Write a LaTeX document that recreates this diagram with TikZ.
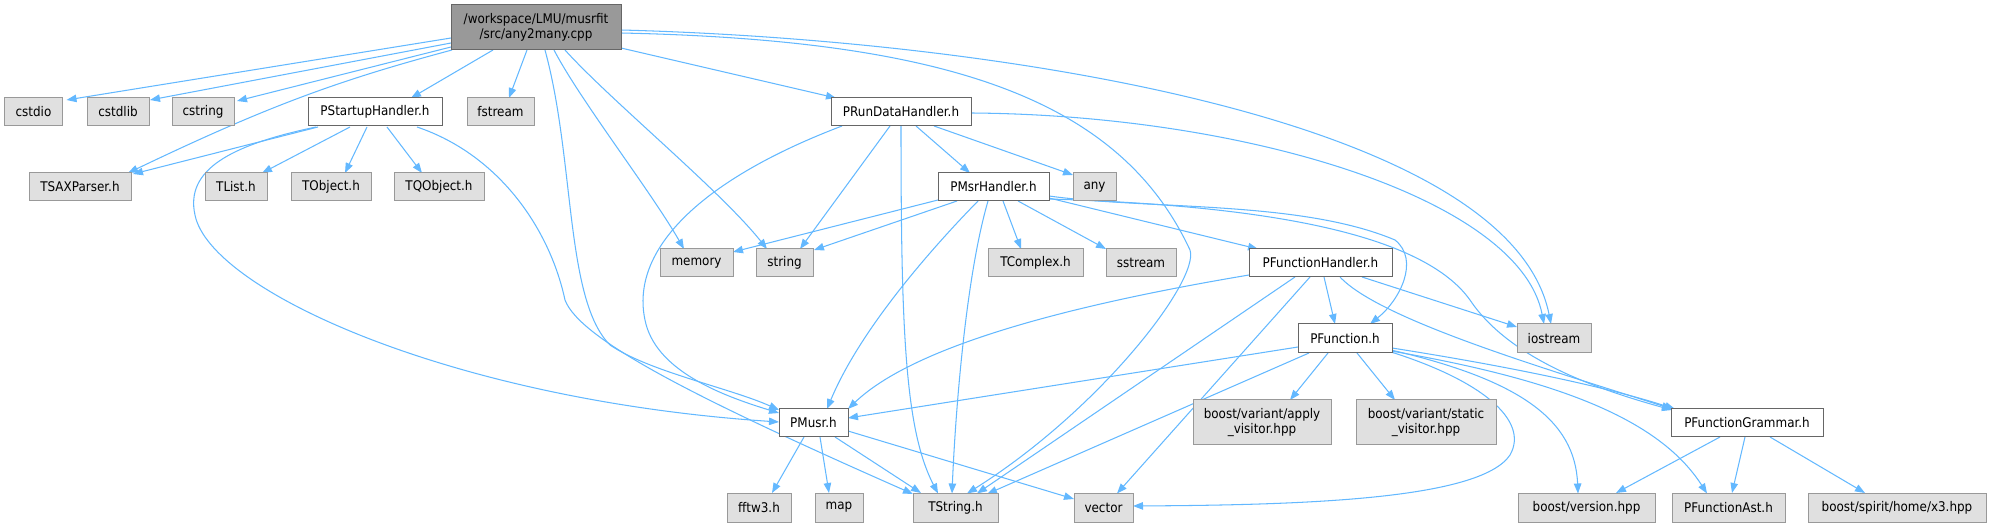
\documentclass[tikz,border=0pt]{standalone}
\usepackage{fontspec}
\usetikzlibrary{arrows.meta,calc}
\newfontfamily\dvf{DejaVu Sans}[FakeStretch=0.9]
\definecolor{edgec}{HTML}{63B8FF}
\definecolor{gfill}{HTML}{E0E0E0}
\definecolor{gborder}{HTML}{999999}
\definecolor{wborder}{HTML}{666666}
\definecolor{mfill}{HTML}{999999}
\pgfdeclarelayer{bg}
\pgfsetlayers{bg,main}
\tikzset{
 e/.style={draw=edgec, line width=1.05pt, -{Triangle[length=10pt,width=7.5pt]}},
 nbase/.style={rectangle, inner sep=0pt, line width=1pt, font=\dvf\fontsize{13.3}{15.5}\selectfont, align=center, minimum height=28pt},
 gbox/.style={nbase, draw=gborder, fill=gfill},
 wbox/.style={nbase, draw=wborder, fill=white},
 mbox/.style={nbase, draw=wborder, fill=mfill},
}
\begin{document}
\begin{tikzpicture}[x=1pt,y=-1pt]
\useasboundingbox (0,0) rectangle (1990,526);
% nodes
\node[mbox, minimum width=170pt, minimum height=45pt] (main) at (536,27.5) {/workspace/LMU/musrfit\\/src/any2many.cpp};
\node[gbox, minimum width=58pt] (cstdio) at (33.5,112) {cstdio};
\node[gbox, minimum width=62pt] (cstdlib) at (118,112) {cstdlib};
\node[gbox, minimum width=62pt] (cstring) at (203,112) {cstring};
\node[wbox, minimum width=134pt] (psh) at (375,112) {PStartupHandler.h};
\node[gbox, minimum width=67pt] (fstream) at (500.5,112) {fstream};
\node[wbox, minimum width=140pt] (prdh) at (901,112) {PRunDataHandler.h};
\node[gbox, minimum width=102pt] (tsax) at (80,187) {TSAXParser.h};
\node[gbox, minimum width=62pt] (tlist) at (236,187) {TList.h};
\node[gbox, minimum width=80pt] (tobject) at (331,187) {TObject.h};
\node[gbox, minimum width=90pt] (tqobject) at (439,187) {TQObject.h};
\node[wbox, minimum width=111pt] (pmsr) at (993.5,187) {PMsrHandler.h};
\node[gbox, minimum width=43pt] (any) at (1094.5,187) {any};
\node[gbox, minimum width=73pt] (memory) at (696.5,263) {memory};
\node[gbox, minimum width=57pt] (string) at (784.5,263) {string};
\node[gbox, minimum width=95pt] (tcomplex) at (1035.5,263) {TComplex.h};
\node[gbox, minimum width=70pt] (sstream) at (1141,263) {sstream};
\node[wbox, minimum width=143pt] (pfh) at (1320.5,263) {PFunctionHandler.h};
\node[wbox, minimum width=94pt, minimum height=29pt] (pf) at (1345,338.5) {PFunction.h};
\node[gbox, minimum width=74pt, minimum height=29pt] (iostream) at (1554,338.5) {iostream};
\node[wbox, minimum width=69pt] (pmusr) at (813.5,423) {PMusr.h};
\node[gbox, minimum width=138pt, minimum height=45pt] (apply) at (1262,422.5) {boost/variant/apply\\\_visitor.hpp};
\node[gbox, minimum width=140pt, minimum height=45pt] (static) at (1426,422.5) {boost/variant/static\\\_visitor.hpp};
\node[wbox, minimum width=152pt] (pfg) at (1747,423) {PFunctionGrammar.h};
\node[gbox, minimum width=64pt, minimum height=29pt] (fftw) at (759,507.5) {fftw3.h};
\node[gbox, minimum width=48pt, minimum height=29pt] (map) at (839,507.5) {map};
\node[gbox, minimum width=85pt, minimum height=29pt] (tstring) at (955.5,507.5) {TString.h};
\node[gbox, minimum width=59pt, minimum height=29pt] (vector) at (1103.5,507.5) {vector};
\node[gbox, minimum width=137pt, minimum height=29pt] (bver) at (1586.5,507.5) {boost/version.hpp};
\node[gbox, minimum width=113pt, minimum height=29pt] (pfa) at (1728.5,507.5) {PFunctionAst.h};
\node[gbox, minimum width=178pt, minimum height=29pt] (x3) at (1897,507.5) {boost/spirit/home/x3.hpp};
% edges
\begin{pgfonlayer}{bg}
% main
\draw[e] ($(main)+(-85,10.5)$) -- ($(cstdio)+(33,-12)$);
\draw[e] ($(main)+(-85,15.5)$) -- ($(cstdlib)+(32,-12)$);
\draw[e] ($(main)+(-85,19.5)$) -- ($(cstring)+(34,-11)$);
\draw[e] ($(main)+(-84,22.5)$) .. controls (340,80) and (270,105) .. ($(tsax)+(48,-14)$);
\draw[e] ($(main)+(-43,22.5)$) -- ($(psh)+(36,-14)$);
\draw[e] ($(main)+(-9,22.5)$) -- ($(fstream)+(8.5,-14)$);
\draw[e] ($(main)+(85,20.5)$) -- ($(prdh)+(-65,-14)$);
\draw[e] ($(main)+(9,22.5)$) .. controls (575,160) and (565,300) .. (610,345) .. controls (650,372) and (730,388) .. ($(pmusr)+(-34.5,-13)$);
\draw[e] ($(main)+(18,22.5)$) .. controls (580,100) and (650,190) .. ($(memory)+(-12.5,-14)$);
\draw[e] ($(main)+(29,22.5)$) .. controls (610,100) and (720,190) .. ($(string)+(-17.5,-14)$);
\draw[e] ($(main)+(85,5.5)$) .. controls (950,40) and (1120,100) .. (1190,250) .. controls (1200,280) and (1100,410) .. ($(tstring)+(11.5,-14)$);
\draw[e] ($(main)+(85,2.5)$) .. controls (1000,40) and (1510,120) .. ($(iostream)+(-3,-14.5)$);
% PStartupHandler
\draw[e] ($(psh)+(-57,15)$) -- ($(tsax)+(53,-13)$);
\draw[e] ($(psh)+(-25,15)$) -- ($(tlist)+(26,-14)$);
\draw[e] ($(psh)+(-8,15)$) -- ($(tobject)+(14,-14)$);
\draw[e] ($(psh)+(12,15)$) -- ($(tqobject)+(-17,-14)$);
\draw[e] ($(psh)+(-59,15)$) .. controls (230,145) and (185,170) .. (195,215) .. controls (210,290) and (450,400) .. ($(pmusr)+(-34.5,-1)$);
\draw[e] ($(psh)+(42,15)$) .. controls (500,155) and (550,230) .. (565,300) .. controls (580,340) and (700,400) .. ($(tstring)+(-42.5,-13.5)$);
% PRunDataHandler
\draw[e] ($(prdh)+(-59,14)$) .. controls (700,180) and (630,250) .. (645,320) .. controls (655,370) and (720,395) .. ($(pmusr)+(-34.5,-10)$);
\draw[e] ($(prdh)+(-11,14)$) -- ($(string)+(15.5,-14)$);
\draw[e] ($(prdh)+(0,14)$) .. controls (901,330) and (905,430) .. ($(tstring)+(-17.5,-14)$);
\draw[e] ($(prdh)+(15,14)$) -- ($(pmsr)+(-23.5,-14)$);
\draw[e] ($(prdh)+(33,14)$) -- ($(any)+(-21.5,-12)$);
\draw[e] ($(prdh)+(70,1)$) .. controls (1250,115) and (1520,200) .. ($(iostream)+(-10,-14.5)$);
% PMsrHandler
\draw[e] ($(pmsr)+(-55.5,13)$) -- ($(memory)+(36.5,-11)$);
\draw[e] ($(pmsr)+(-36.5,14)$) -- ($(string)+(29.5,-13)$);
\draw[e] ($(pmsr)+(-15.5,14)$) .. controls (930,250) and (860,330) .. ($(pmusr)+(13.5,-14)$);
\draw[e] ($(pmsr)+(-5.5,14)$) .. controls (965,280) and (955,420) .. ($(tstring)+(-3.5,-14)$);
\draw[e] ($(pmsr)+(9.5,14)$) -- ($(tcomplex)+(-14.5,-14)$);
\draw[e] ($(pmsr)+(24.5,14)$) -- ($(sstream)+(-35,-14)$);
\draw[e] ($(pmsr)+(55.5,11)$) -- ($(pfh)+(-62.5,-14)$);
\draw[e] ($(pmsr)+(55.5,9)$) .. controls (1150,210) and (1300,200) .. (1395,240) .. controls (1420,260) and (1400,300) .. ($(pf)+(25,-14.5)$);
\draw[e] ($(pmsr)+(55.5,12)$) .. controls (1250,205) and (1420,230) .. (1470,300) .. controls (1510,360) and (1600,390) .. ($(pfg)+(-75,-13)$);
% PFunctionHandler
\draw[e] ($(pfh)+(-71.5,12)$) .. controls (1100,300) and (920,340) .. ($(pmusr)+(34.5,-14)$);
\draw[e] ($(pfh)+(-25.5,14)$) -- ($(tstring)+(21.5,-14)$);
\draw[e] ($(pfh)+(-10.5,14)$) -- ($(vector)+(13.5,-14)$);
\draw[e] ($(pfh)+(3.5,14)$) -- ($(pf)+(-10,-14.5)$);
\draw[e] ($(pfh)+(19.5,14)$) .. controls (1380,320) and (1550,370) .. ($(pfg)+(-75,-14)$);
\draw[e] ($(pfh)+(41.5,14)$) -- ($(iostream)+(-37,-11.5)$);
% PFunction
\draw[e] ($(pf)+(-47,8.5)$) -- ($(pmusr)+(34.5,-5)$);
\draw[e] ($(pf)+(-36,14.5)$) -- ($(tstring)+(31.5,-13.5)$);
\draw[e] ($(pf)+(-17,14.5)$) -- ($(apply)+(28,-22.5)$);
\draw[e] ($(pf)+(12,14.5)$) -- ($(static)+(-31,-22.5)$);
\draw[e] ($(pf)+(46,13.5)$) .. controls (1480,380) and (1530,420) .. (1510,455) .. controls (1480,500) and (1300,505) .. ($(vector)+(29.5,-1.5)$);
\draw[e] ($(pf)+(46,11.5)$) .. controls (1520,380) and (1575,420) .. ($(bver)+(-8.5,-14)$);
\draw[e] ($(pf)+(46,12.5)$) .. controls (1560,380) and (1660,420) .. ($(pfa)+(-21.5,-14)$);
\draw[e] ($(pf)+(47,9.5)$) .. controls (1500,365) and (1600,385) .. ($(pfg)+(-72,-14)$);
% PMusr
\draw[e] ($(pmusr)+(-9.5,14)$) -- ($(fftw)+(13,-14.5)$);
\draw[e] ($(pmusr)+(6.5,14)$) -- ($(map)+(-10,-14.5)$);
\draw[e] ($(pmusr)+(21.5,14)$) -- ($(tstring)+(-34.5,-14.5)$);
\draw[e] ($(pmusr)+(34.5,8)$) -- ($(vector)+(-29.5,-8.5)$);
% PFunctionGrammar
\draw[e] ($(pfg)+(-27,14)$) -- ($(bver)+(29.5,-14.5)$);
\draw[e] ($(pfg)+(-2,14)$) -- ($(pfa)+(3.5,-14.5)$);
\draw[e] ($(pfg)+(23,14)$) -- ($(x3)+(-32,-14.5)$);
\end{pgfonlayer}
\end{tikzpicture}
\end{document}
